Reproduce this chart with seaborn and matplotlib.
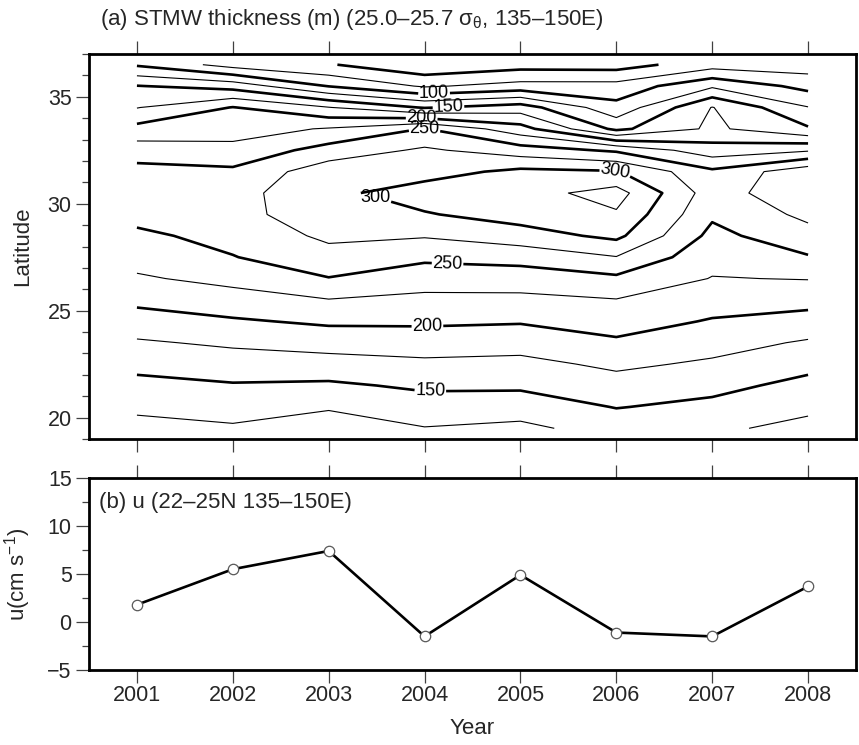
import numpy as np
import pandas as pd
import matplotlib
matplotlib.use("Agg")
import matplotlib.pyplot as plt
from matplotlib.ticker import MultipleLocator
import seaborn as sns

# ---------------- data ----------------
years = [2001, 2002, 2003, 2004, 2005, 2006, 2007, 2008]
lats = [36.5, 35.5, 34.5, 33.5, 32.5, 31.5, 30.5, 29.5, 28.5,
        27.5, 26.5, 25.5, 24.5, 23.5, 22.5, 21.5, 20.5, 19.5]

# STMW thickness (m) per year, listed from north (36.5N) to south (19.5N)
thk_2001 = [97, 151, 174, 208, 238, 258, 265, 258, 245, 234, 222, 206, 189, 172, 157, 143, 130, 117]
thk_2002 = [65, 140, 201, 215, 232, 255, 266, 265, 258, 249, 232, 215, 197, 179, 163, 148, 135, 122]
thk_2003 = [52, 99, 176, 227, 260, 290, 294, 293, 280, 266, 249, 224, 204, 185, 165, 146, 128, 110]
thk_2004 = [30, 72, 148, 251, 279, 290, 312, 298, 277, 255, 236, 219, 204, 187, 170, 154, 139, 124]
thk_2005 = [40, 84, 162, 210, 262, 306, 315, 311, 289, 259, 237, 219, 202, 185, 168, 154, 137, 119]
thk_2006 = [39, 84, 108, 144, 246, 302, 335, 322, 306, 274, 245, 224, 211, 196, 180, 165, 151, 136]
thk_2007 = [64, 121, 176, 180, 211, 255, 262, 254, 243, 233, 224, 211, 198, 185, 171, 157, 144, 130]
thk_2008 = [62, 92, 126, 153, 222, 292, 296, 281, 266, 248, 226, 208, 191, 172, 157, 143, 131, 117]

u_values = [1.8, 5.5, 7.4, -1.5, 4.9, -1.1, -1.5, 3.7]

thick_levels = [50, 100, 150, 200, 250, 300]
thin_levels = [75, 125, 175, 225, 275, 325]
lat_ticks = [20, 25, 30, 35]
u_ticks = [-5, 0, 5, 10, 15]

title_a = "(a) STMW thickness (m) (25.0\u201325.7 \u03c3$_{\\mathrm{\u03b8}}$, 135\u2013150E)"
title_b = "(b) u (22\u201325N 135\u2013150E)"

# ---------------- style ----------------
sns.set_theme(style="ticks")
plt.rcParams["font.family"] = ["Liberation Sans", "DejaVu Sans"]
plt.rcParams["mathtext.fontset"] = "custom"
plt.rcParams["mathtext.rm"] = "Liberation Sans"
plt.rcParams["mathtext.it"] = "Liberation Sans:italic"
plt.rcParams["axes.linewidth"] = 2.0
plt.rcParams["axes.edgecolor"] = "black"

W, H = 859, 745
fig = plt.figure(figsize=(W / 100, H / 100), dpi=100)
ax1 = fig.add_axes([89 / W, 1 - 439 / H, 767 / W, 385 / H])
ax2 = fig.add_axes([89 / W, 1 - 670 / H, 767 / W, 192 / H])

# ---------------- panel (a) ----------------
grid = np.column_stack([thk_2001, thk_2002, thk_2003, thk_2004,
                        thk_2005, thk_2006, thk_2007, thk_2008])
X, Y = np.meshgrid(years, lats)
cs_thick = ax1.contour(X, Y, grid, levels=thick_levels, colors="black", linewidths=1.9)
cs_thin = ax1.contour(X, Y, grid, levels=thin_levels, colors="black", linewidths=0.8)

label_spots = [(2004.1, 35.0), (2004.25, 34.45), (2003.97, 34.06), (2004.0, 33.5),
               (2003.5, 30.45), (2005.99, 31.58), (2004.24, 27.22),
               (2004.03, 24.24), (2004.06, 21.22)]
ax1.clabel(cs_thick, manual=label_spots, fmt="%d",
           fontsize=13, inline=True, inline_spacing=3, colors="black")
# the westernmost "300" label sits horizontally over the tip of its contour
cs_thick.labelTexts[4].set_rotation(0)

ax1.set_xlim(2000.5, 2008.5)
ax1.set_ylim(19, 37)
ax1.set_xticks(years)
ax1.set_yticks(lat_ticks)
ax1.yaxis.set_minor_locator(MultipleLocator(1))
ax1.tick_params(axis="x", which="major", top=True, bottom=True, labelbottom=False,
                direction="out", length=9.5, width=0.9, color="0.25")
ax1.tick_params(axis="y", which="major", left=True, right=False, direction="out",
                length=9.5, width=0.9, color="0.25", labelsize=15.5, pad=3)
ax1.tick_params(axis="y", which="minor", left=True, right=False, direction="out",
                length=5, width=0.9, color="0.25")
ax1.set_ylabel("Latitude", fontsize=16)
ax1.yaxis.set_label_coords(-0.073, 0.5)
ax1.set_xlabel("")

fig.text(100 / W, 1 - 20 / H, title_a, ha="left", va="center", fontsize=16)

# ---------------- panel (b) ----------------
df = pd.DataFrame({"Year": years, "u": u_values})
sns.lineplot(data=df, x="Year", y="u", ax=ax2, color="black", linewidth=1.9,
             marker="o", markersize=7.5, markerfacecolor="white",
             markeredgecolor="0.35", markeredgewidth=0.9)

ax2.set_xlim(2000.5, 2008.5)
ax2.set_ylim(-5, 15)
ax2.set_xticks(years)
ax2.set_xticklabels([str(y) for y in years])
ax2.set_yticks(u_ticks)
ax2.yaxis.set_minor_locator(MultipleLocator(2.5))
ax2.tick_params(axis="x", which="major", top=True, bottom=True, direction="out",
                length=9.5, width=0.9, color="0.25", labelsize=15.5, pad=1.5)
ax2.tick_params(axis="y", which="major", left=True, right=False, direction="out",
                length=9.5, width=0.9, color="0.25", labelsize=15.5, pad=3)
ax2.tick_params(axis="y", which="minor", left=True, right=False, direction="out",
                length=5, width=0.9, color="0.25")
ax2.set_ylabel("u(cm s$^{\\mathrm{-1}}$)", fontsize=16)
ax2.yaxis.set_label_coords(-0.073, 0.5)
ax2.set_xlabel("Year", fontsize=16, va="top")
ax2.xaxis.set_label_coords(0.5, -0.25)
ax2.text(10 / 767, 0.87, title_b, transform=ax2.transAxes, ha="left", va="center",
         fontsize=16)

for ax in (ax1, ax2):
    for sp in ax.spines.values():
        sp.set_visible(True)
        sp.set_linewidth(2.0)
        sp.set_color("black")

fig.savefig("out.png", dpi=100)
